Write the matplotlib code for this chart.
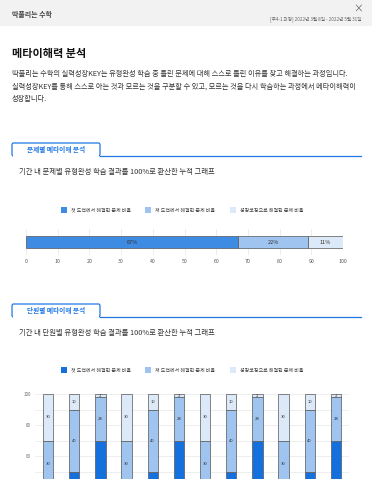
import numpy as np
import matplotlib
matplotlib.use("Agg")
import matplotlib.pyplot as plt
from matplotlib.patches import Rectangle, FancyBboxPatch

plt.rcParams['font.family'] = ['Noto Sans CJK KR', 'DejaVu Sans']

W, H = 372, 479

# data
series_names = ['첫 도전에서 해결한 문제 비율', '재 도전에서 해결한 문제 비율', '성장코칭으로 해결한 문제 비율']
total_values = [67, 22, 11]
unit_first = [40, 50, 70, 40, 50, 70, 40, 50, 70, 40, 50, 70]
unit_second = [30, 40, 28, 30, 40, 28, 30, 40, 28, 30, 40, 28]
unit_coach = [30, 10, 2, 30, 10, 2, 30, 10, 2, 30, 10, 2]
x_ticks_top = list(range(0, 101, 10))
y_ticks_bottom = [60, 80, 100]  # lower ticks fall below the page

top_colors = ['#3d8be2', '#9fc4f0', '#dce9f8']
bottom_colors = ['#1470dd', '#9fc4f0', '#dce9f8']
blue = '#1f78e4'
text_col = '#333333'


def px(x, y):
    return x / W, 1 - y / H


def box(x0, y0, w, h):
    return [x0 / W, 1 - (y0 + h) / H, w / W, h / H]


fig = plt.figure(figsize=(W / 100, H / 100), dpi=100)
fig.patch.set_facecolor('white')

# header strip
fig.patches.append(Rectangle((0, 1 - 26 / H), 1, 26 / H, transform=fig.transFigure,
                             facecolor='#f2f2f2', edgecolor='none'))
fig.text(*px(12, 14), '딱풀리는 수학', fontsize=5, color='#444444', va='center', fontweight='bold')
fig.text(*px(358, 9), '×', fontsize=7, color='#666666', va='center', ha='center')
fig.text(*px(361, 19), '[주4-1 과정] 2022년 3월 8일 - 2022년 5월 31일', fontsize=3.3,
         color='#666666', va='center', ha='right')

# title and description
fig.text(*px(12, 54), '메타이해력 분석', fontsize=8, fontweight='bold', color='#111111', va='center')
desc = ['딱풀리는 수학의 실력성장KEY는 유형완성 학습 중 틀린 문제에 대해 스스로 틀린 이유를 찾고 해결하는 과정입니다.',
        '실력성장KEY를 통해 스스로 아는 것과 모르는 것을 구분할 수 있고, 모르는 것을 다시 학습하는 과정에서 메타이해력이',
        '성장합니다.']
for i, line in enumerate(desc):
    fig.text(*px(12, 74 + i * 12.5), line, fontsize=5.2, color=text_col, va='center')


def section_tab(y_line, label):
    # rounded tab + long underline
    tab = FancyBboxPatch((12 / W, 1 - y_line / H), 88 / W, 13 / H,
                         boxstyle='round,pad=0,rounding_size=0.004', transform=fig.transFigure,
                         facecolor='white', edgecolor=blue, linewidth=0.9)
    fig.patches.append(tab)
    fig.patches.append(Rectangle((12.6 / W, 1 - (y_line + 1.5) / H), 86.8 / W, 2.2 / H,
                                 transform=fig.transFigure, facecolor='white', edgecolor='none'))
    fig.lines.append(plt.Line2D([100 / W, 361 / W], [1 - y_line / H] * 2,
                                transform=fig.transFigure, color=blue, linewidth=0.9))
    fig.text(*px(56, y_line - 6.5), label, fontsize=4.8, fontweight='bold', color=blue,
             ha='center', va='center')


def legend_row(y, colors):
    xs = [61, 145, 230]
    for x, c, name in zip(xs, colors, series_names):
        fig.patches.append(Rectangle((x / W, 1 - (y + 2.7) / H), 5.5 / W, 5.5 / H,
                                     transform=fig.transFigure, facecolor=c, edgecolor='none'))
        fig.text(*px(x + 10, y), name, fontsize=3.6, color='#444444', va='center')


# section 1
section_tab(156, '문제별 메타이해 분석')
fig.text(*px(19, 172), '기간 내 문제별 유형완성 학습 결과를 100%로 환산한 누적 그래프', fontsize=5.3,
         color=text_col, va='center')
legend_row(210, top_colors)

ax1 = fig.add_axes(box(26, 229.5, 317, 25))
left = 0
for v, c in zip(total_values, top_colors):
    ax1.barh(0, v, left=left, height=0.5, color=c, edgecolor='#555555', linewidth=0.5, zorder=3)
    ax1.text(left + v / 2, 0, f'{v}%', ha='center', va='center', fontsize=4, color='#333333', zorder=4)
    left += v
ax1.set_xlim(0, 100)
ax1.set_ylim(-0.5, 0.5)
ax1.set_xticks(x_ticks_top)
ax1.set_yticks([])
ax1.tick_params(axis='x', length=0, labelsize=3.8, labelcolor='#555555', pad=3)
ax1.grid(axis='x', color='#e6e6e6', linewidth=0.5, zorder=0)
for s in ax1.spines.values():
    s.set_visible(False)

# section 2
section_tab(317, '단원별 메타이해 분석')
fig.text(*px(19, 333), '기간 내 단원별 유형완성 학습 결과를 100%로 환산한 누적 그래프', fontsize=5.3,
         color=text_col, va='center')
legend_row(370, bottom_colors)

ax2 = fig.add_axes(box(35, 394, 314, 155))
xs = np.arange(len(unit_first))
bottom = np.zeros(len(xs))
for vals, c in zip([unit_first, unit_second, unit_coach], bottom_colors):
    vals = np.array(vals)
    ax2.bar(xs, vals, bottom=bottom, width=0.4, color=c, edgecolor='#555555', linewidth=0.5, zorder=3)
    for x, b, v in zip(xs, bottom, vals):
        if b + v / 2 > 43:  # labels lower down fall outside the page
            ax2.text(x, b + v / 2, str(v), ha='center', va='center', fontsize=3, color='#333333',
                     zorder=4, clip_on=True)
    bottom += vals
ax2.set_xlim(-0.5, len(xs) - 0.5)
ax2.set_ylim(0, 100)
ax2.set_yticks(y_ticks_bottom)
ax2.set_yticks(range(0, 101, 10), minor=True)
ax2.set_xticks([])
ax2.tick_params(axis='y', which='both', length=0, labelsize=3.2, labelcolor='#666666', pad=3)
ax2.grid(axis='y', which='both', color='#e8e8e8', linewidth=0.5, zorder=0)
for s in ax2.spines.values():
    s.set_visible(False)

fig.savefig('out.png', dpi=100)
